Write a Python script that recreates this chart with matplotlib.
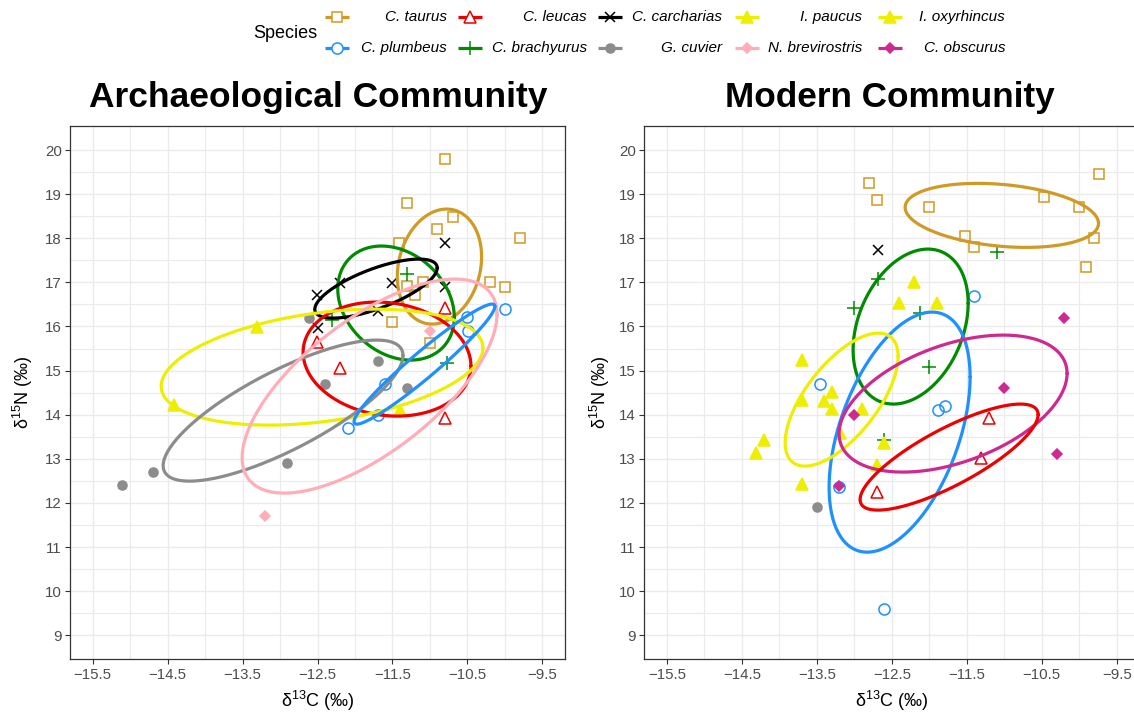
import numpy as np
import matplotlib
matplotlib.use("Agg")
import matplotlib.pyplot as plt

plt.rcParams['font.family'] = ['Liberation Sans', 'DejaVu Sans']
plt.rcParams['mathtext.fontset'] = 'custom'
plt.rcParams['mathtext.rm'] = 'Liberation Sans'
plt.rcParams['mathtext.default'] = 'regular'

# ---------------- data: Archaeological community ----------------
taurus_a_x = [-10.80, -11.30, -10.70, -10.90, -9.80, -11.41, -10.20, -10.00, -11.30, -11.10, -11.20, -11.50, -11.00]
taurus_a_y = [19.80, 18.80, 18.49, 18.20, 18.01, 17.90, 17.00, 16.90, 16.92, 17.00, 16.71, 16.11, 15.63]
plumbeus_a_x = [-10.50, -10.00, -10.49, -11.60, -12.10, -11.70]
plumbeus_a_y = [16.22, 16.40, 15.90, 14.69, 13.69, 13.99]
leucas_a_x = [-10.80, -12.51, -12.20, -10.80]
leucas_a_y = [16.43, 15.65, 15.05, 13.92]
brachyurus_a_x = [-11.30, -10.78, -12.31]
brachyurus_a_y = [17.20, 15.18, 16.15]
carcharias_a_x = [-10.80, -11.50, -10.80, -12.20, -12.51, -12.49, -11.69]
carcharias_a_y = [17.90, 16.99, 16.90, 16.99, 16.71, 15.96, 16.36]
cuvier_a_x = [-15.11, -14.70, -12.90, -12.61, -11.70, -12.40, -11.31]
cuvier_a_y = [12.40, 12.70, 12.90, 16.20, 15.22, 14.69, 14.60]
brevirostris_a_x = [-13.20, -11.00]
brevirostris_a_y = [11.70, 15.90]
paucus_a_x = [-13.31, -14.42, -11.40]
paucus_a_y = [15.99, 14.22, 14.10]

# ellipses (centre, half extents, correlation)
arch_ell_species = ['C. taurus', 'C. brachyurus', 'C. carcharias', 'C. leucas',
                    'I. paucus', 'G. cuvier', 'N. brevirostris', 'C. plumbeus']
arch_ell_cx = [-10.874, -11.453, -11.720, -11.573, -12.439, -12.959, -11.806, -11.074]
arch_ell_cy = [17.358, 16.531, 16.859, 15.261, 15.079, 14.093, 14.649, 15.147]
arch_ell_sx = [0.562, 0.777, 0.816, 1.119, 2.145, 1.599, 1.699, 0.939]
arch_ell_sy = [1.304, 1.293, 0.669, 1.293, 1.315, 1.599, 2.426, 1.361]
arch_ell_rho = [0.17, -0.25, 0.70, -0.12, 0.33, 0.78, 0.67, 0.96]

# ---------------- data: Modern community ----------------
taurus_m_x = [-12.81, -12.70, -12.00, -11.52, -11.40, -10.47, -10.01, -9.74, -9.80, -9.91]
taurus_m_y = [19.25, 18.87, 18.70, 18.06, 17.81, 18.94, 18.71, 19.45, 18.00, 17.34]
plumbeus_m_x = [-13.46, -13.21, -12.60, -11.40, -11.89, -11.79]
plumbeus_m_y = [14.69, 12.37, 9.59, 16.70, 14.10, 14.20]
brachyurus_m_x = [-12.69, -13.01, -11.10, -12.12, -12.00, -12.61]
brachyurus_m_y = [17.07, 16.41, 17.68, 16.31, 15.09, 13.42]
carcharias_m_x = [-12.69]
carcharias_m_y = [17.73]
leucas_m_x = [-12.70, -11.20, -11.31]
leucas_m_y = [12.25, 13.92, 13.01]
cuvier_m_x = [-13.50]
cuvier_m_y = [11.91]
obscurus_m_x = [-13.00, -13.20, -11.00, -10.30, -10.20]
obscurus_m_y = [14.00, 12.39, 14.60, 13.10, 16.20]
oxyrhincus_m_x = [-13.70, -13.30, -13.41, -13.70, -13.30, -12.90, -13.19]
oxyrhincus_m_y = [15.24, 14.52, 14.32, 14.33, 14.12, 14.12, 13.58]
paucus_m_x = [-12.20, -12.40, -11.90, -12.61, -12.70, -14.20, -14.31, -13.70]
paucus_m_y = [17.01, 16.54, 16.54, 13.35, 12.86, 13.42, 13.14, 12.43]

mod_ell_species = ['C. taurus', 'C. brachyurus', 'C. plumbeus', 'I. oxyrhincus',
                   'C. obscurus', 'C. leucas']
mod_ell_cx = [-11.033, -12.249, -12.396, -13.169, -11.683, -11.736]
mod_ell_cy = [18.519, 15.998, 13.605, 14.342, 14.252, 13.039]
mod_ell_sx = [1.289, 0.767, 0.940, 0.753, 1.520, 1.187]
mod_ell_sy = [0.726, 1.757, 2.721, 1.508, 1.553, 1.202]
mod_ell_rho = [-0.25, 0.30, 0.46, 0.65, 0.44, 0.80]

x_ticks = [-15.5, -14.5, -13.5, -12.5, -11.5, -10.5, -9.5]
y_ticks = [9, 10, 11, 12, 13, 14, 15, 16, 17, 18, 19, 20]

# ---------------- styles ----------------
style = {
    'C. taurus':       dict(color='#D09A26', marker='s', fill=False, ms=7.5),
    'C. plumbeus':     dict(color='#1E90FF', marker='o', fill=False, ms=8),
    'C. leucas':       dict(color='#EE0000', marker='^', fill=False, ms=9),
    'C. brachyurus':   dict(color='#008B00', marker='+', fill=False, ms=10),
    'C. carcharias':   dict(color='#000000', marker='x', fill=False, ms=7.5),
    'G. cuvier':       dict(color='#8C8C8C', marker='o', fill=True, ms=6.5),
    'I. paucus':       dict(color='#EEEE00', marker='^', fill=True, ms=8),
    'N. brevirostris': dict(color='#FFAEB9', marker='D', fill=True, ms=5),
    'I. oxyrhincus':   dict(color='#EEEE00', marker='^', fill=True, ms=8),
    'C. obscurus':     dict(color='#CD2990', marker='D', fill=True, ms=5),
}

arch_points = [('C. taurus', taurus_a_x, taurus_a_y), ('C. plumbeus', plumbeus_a_x, plumbeus_a_y),
               ('C. leucas', leucas_a_x, leucas_a_y), ('C. brachyurus', brachyurus_a_x, brachyurus_a_y),
               ('C. carcharias', carcharias_a_x, carcharias_a_y), ('G. cuvier', cuvier_a_x, cuvier_a_y),
               ('I. paucus', paucus_a_x, paucus_a_y), ('N. brevirostris', brevirostris_a_x, brevirostris_a_y)]
mod_points = [('C. taurus', taurus_m_x, taurus_m_y), ('C. plumbeus', plumbeus_m_x, plumbeus_m_y),
              ('C. leucas', leucas_m_x, leucas_m_y), ('C. brachyurus', brachyurus_m_x, brachyurus_m_y),
              ('C. carcharias', carcharias_m_x, carcharias_m_y), ('G. cuvier', cuvier_m_x, cuvier_m_y),
              ('I. paucus', paucus_m_x, paucus_m_y), ('I. oxyrhincus', oxyrhincus_m_x, oxyrhincus_m_y),
              ('C. obscurus', obscurus_m_x, obscurus_m_y)]


def draw_points(ax, name, xs, ys):
    s = style[name]
    ax.plot(xs, ys, linestyle='none', marker=s['marker'], ms=s['ms'],
            mec=s['color'], mfc=s['color'] if s['fill'] else 'none',
            mew=1.1, zorder=3)


def draw_ellipse(ax, name, cx, cy, sx, sy, rho):
    t = np.linspace(0, 2 * np.pi, 300)
    x = cx + sx * np.cos(t)
    y = cy + sy * (rho * np.cos(t) + np.sqrt(1 - rho ** 2) * np.sin(t))
    ax.plot(x, y, color=style[name]['color'], lw=2.3, zorder=4, solid_capstyle='round')


def setup_axes(ax):
    ax.set_xlim(-15.8, -9.2)
    ax.set_ylim(8.455, 20.545)
    ax.set_xticks(x_ticks)
    ax.set_xticklabels(['\u2212' + f"{abs(v):g}" for v in x_ticks])
    ax.set_yticks(y_ticks)
    ax.set_yticklabels([str(v) for v in y_ticks])
    ax.set_xticks(np.arange(-15.0, -9.0, 1.0), minor=True)
    ax.set_yticks(np.arange(9.5, 20.5, 1.0), minor=True)
    ax.grid(True, which='major', color='#EBEBEB', lw=1.0, zorder=0)
    ax.grid(True, which='minor', color='#EBEBEB', lw=0.8, zorder=0)
    ax.set_axisbelow(True)
    ax.tick_params(which='major', length=3.5, width=0.8, color='#333333',
                   labelsize=10.8, labelcolor='#4D4D4D', pad=2.5)
    ax.tick_params(which='minor', length=0)
    for sp in ax.spines.values():
        sp.set_color('#333333')
        sp.set_linewidth(0.9)
    ax.set_xlabel(r'δ$^{13}$C (‰)', fontsize=13, labelpad=5)


fig = plt.figure(figsize=(11.34, 7.13), dpi=100)
axA = fig.add_axes([70 / 1134, 1 - 659.3 / 713, 495 / 1134, 533.3 / 713])
axM = fig.add_axes([644.3 / 1134, 1 - 659.3 / 713, 495 / 1134, 533.3 / 713])

for ax in (axA, axM):
    setup_axes(ax)

for name, xs, ys in arch_points:
    draw_points(axA, name, xs, ys)
for i, name in enumerate(arch_ell_species):
    draw_ellipse(axA, name, arch_ell_cx[i], arch_ell_cy[i], arch_ell_sx[i], arch_ell_sy[i], arch_ell_rho[i])

for name, xs, ys in mod_points:
    draw_points(axM, name, xs, ys)
for i, name in enumerate(mod_ell_species):
    draw_ellipse(axM, name, mod_ell_cx[i], mod_ell_cy[i], mod_ell_sx[i], mod_ell_sy[i], mod_ell_rho[i])

axA.set_ylabel(r'δ$^{15}$N (‰)', fontsize=13, labelpad=7)
axM.set_ylabel(r'δ$^{15}$N (‰)', fontsize=13, labelpad=5)

# titles
fig.text(318 / 1134, 1 - 107 / 713, 'Archaeological Community', ha='center', va='baseline',
         fontsize=25.5, fontweight='bold')
fig.text(890 / 1134, 1 - 107 / 713, 'Modern Community', ha='center', va='baseline',
         fontsize=25.3, fontweight='bold')

# ---------------- legend (drawn in pixel coordinates) ----------------
lax = fig.add_axes([0, 0, 1, 1], zorder=10)
lax.set_xlim(0, 1134)
lax.set_ylim(713, 0)
lax.axis('off')
lax.patch.set_visible(False)

legend_rows = [['C. taurus', 'C. leucas', 'C. carcharias', 'I. paucus', 'I. oxyrhincus'],
               ['C. plumbeus', 'C. brachyurus', 'G. cuvier', 'N. brevirostris', 'C. obscurus']]
key_x = [337, 470, 610, 747, 890]
text_right = [447, 587, 722, 862, 1005]
row_y = [17, 48]
lax.text(253, 33, 'Species', fontsize=13, ha='left', va='center', color='black')
for r, row in enumerate(legend_rows):
    for c, name in enumerate(row):
        s = style[name]
        lax.plot([key_x[c] - 12, key_x[c] + 12], [row_y[r], row_y[r]], color=s['color'], lw=2.3,
                 solid_capstyle='butt')
        lax.plot([key_x[c]], [row_y[r]], linestyle='none', marker=s['marker'], ms=s['ms'],
                 mec=s['color'], mfc=s['color'] if s['fill'] else 'white', mew=1.1)
        lax.text(text_right[c], row_y[r], name, fontsize=11, style='italic', ha='right', va='center')

fig.savefig('out.png', dpi=100)
